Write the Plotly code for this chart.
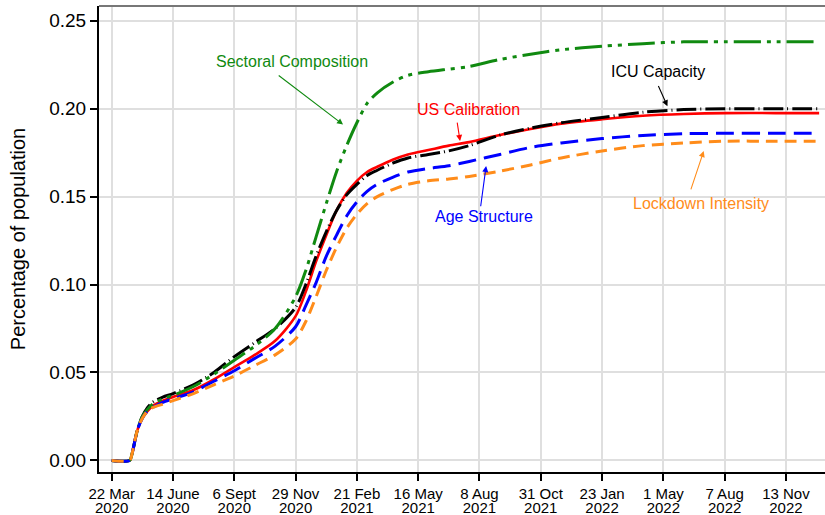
import plotly.graph_objects as go

# Weeks since 22 March 2020
weeks = [0, 3.5, 4, 5, 6, 7, 8, 10, 12, 16, 20, 24, 28, 32, 36, 38, 40, 42, 44, 46,
         48, 50, 52, 55, 58, 62, 66, 70, 76, 82, 88, 96, 104, 112, 120, 130, 138.5]

us_calibration = [0, 0, 0.004, 0.017, 0.024, 0.028, 0.031, 0.034, 0.036, 0.040, 0.046, 0.053,
                  0.060, 0.068, 0.082, 0.096, 0.113, 0.128, 0.142, 0.152, 0.159, 0.164, 0.167,
                  0.171, 0.174, 0.1765, 0.179, 0.181, 0.185, 0.1885, 0.1915, 0.194, 0.196,
                  0.197, 0.1975, 0.1975, 0.1975]
icu_capacity = [0, 0, 0.004, 0.017, 0.025, 0.030, 0.033, 0.036, 0.038, 0.043, 0.050, 0.059,
                0.067, 0.075, 0.087, 0.100, 0.116, 0.130, 0.142, 0.151, 0.157, 0.162, 0.165,
                0.169, 0.172, 0.174, 0.176, 0.179, 0.185, 0.189, 0.192, 0.195, 0.198,
                0.1995, 0.200, 0.200, 0.200]
sectoral = [0, 0, 0.004, 0.017, 0.025, 0.029, 0.032, 0.035, 0.037, 0.042, 0.049, 0.057,
            0.065, 0.075, 0.093, 0.108, 0.127, 0.146, 0.164, 0.179, 0.192, 0.203, 0.209,
            0.215, 0.219, 0.221, 0.2225, 0.224, 0.228, 0.231, 0.2335, 0.2355, 0.237,
            0.238, 0.238, 0.238, 0.238]
age_structure = [0, 0, 0.004, 0.017, 0.024, 0.028, 0.030, 0.033, 0.035, 0.039, 0.045, 0.051,
                 0.058, 0.065, 0.076, 0.088, 0.101, 0.116, 0.128, 0.139, 0.147, 0.153, 0.157,
                 0.161, 0.164, 0.166, 0.1675, 0.170, 0.174, 0.178, 0.1805, 0.183, 0.1848,
                 0.1858, 0.186, 0.186, 0.186]
lockdown = [0, 0, 0.004, 0.017, 0.024, 0.028, 0.030, 0.032, 0.034, 0.038, 0.043, 0.048,
            0.054, 0.060, 0.069, 0.079, 0.093, 0.108, 0.121, 0.132, 0.140, 0.146, 0.150,
            0.154, 0.157, 0.159, 0.160, 0.1615, 0.1645, 0.168, 0.172, 0.176, 0.179,
            0.1805, 0.1815, 0.1815, 0.1815]

tick_weeks = [0, 12, 24, 36, 48, 60, 72, 84, 96, 108, 120, 132]
tick_days = ["22 Mar", "14 June", "6 Sept", "29 Nov", "21 Feb", "16 May", "8 Aug",
             "31 Oct", "23 Jan", "1 May", "7 Aug", "13 Nov"]
tick_years = ["2020", "2020", "2020", "2020", "2021", "2021", "2021",
              "2021", "2022", "2022", "2022", "2022"]
y_ticks = [0.00, 0.05, 0.10, 0.15, 0.20, 0.25]

GREEN = "#108a10"
RED = "#ff0000"
BLACK = "#000000"
BLUE = "#0000ff"
ORANGE = "#ff8c1a"
FONT = "Liberation Sans, Arial, Helvetica, sans-serif"

series = [
    ("US Calibration", us_calibration, RED, "solid", 2.6),
    ("ICU Capacity", icu_capacity, BLACK, "20px,4px,1px,4px", 3),
    ("Sectoral Composition", sectoral, GREEN, "27px,6px,4px,6px,4px,6px", 3),
    ("Age Structure", age_structure, BLUE, "18px,8px", 3),
    ("Lockdown Intensity", lockdown, ORANGE, "12px,7px", 3),
]

fig = go.Figure()
for name, vals, color, dash, width in series:
    fig.add_trace(go.Scatter(
        x=weeks, y=vals, name=name, mode="lines",
        line=dict(color=color, dash=dash, width=width, shape="spline", smoothing=0.8),
        showlegend=False, hoverinfo="skip",
    ))

# Year row under the day labels
fig.add_trace(go.Scatter(x=[None], y=[None], xaxis="x2", showlegend=False))

# Labels with pointer arrows: (text, color, text pos, arrow tail, arrow tip)
labels = [
    ("Sectoral Composition", GREEN, (35.3, 0.2268), (32.4, 0.2195), (45.3, 0.191)),
    ("US Calibration", RED, (69.8, 0.1997), (67.6, 0.1929), (68.2, 0.1816)),
    ("ICU Capacity", BLACK, (106.9, 0.2212), (106.9, 0.2138), (108.8, 0.2014)),
    ("Age Structure", BLUE, (72.9, 0.1386), (72.2, 0.1437), (73.3, 0.1674)),
    ("Lockdown Intensity", ORANGE, (115.3, 0.1459), (113.3, 0.1533), (115.9, 0.1759)),
]
for text, color, tpos, tail, tip in labels:
    fig.add_annotation(x=tpos[0], y=tpos[1], text=text, showarrow=False,
                       font=dict(family=FONT, size=16, color=color))
    fig.add_annotation(x=tip[0], y=tip[1], ax=tail[0], ay=tail[1],
                       xref="x", yref="y", axref="x", ayref="y", text="",
                       showarrow=True, arrowhead=2, arrowsize=1.1, arrowwidth=1.1,
                       arrowcolor=color)

x_range = [-2.49, 139.65]
fig.update_layout(
    width=825, height=515,
    margin=dict(l=99, r=0, t=6, b=43, autoexpand=False),
    paper_bgcolor="white", plot_bgcolor="white",
    font=dict(family=FONT, color="black"),
    xaxis=dict(
        range=x_range, tickmode="array", tickvals=tick_weeks, ticktext=tick_days,
        ticks="outside", ticklen=7, tickwidth=1.5, tickcolor="black",
        showline=True, linecolor="black", linewidth=2,
        showgrid=True, gridcolor="#dfdfdf", gridwidth=1.6,
        tickfont=dict(family=FONT, size=15), zeroline=False, automargin=False,
    ),
    xaxis2=dict(
        range=x_range, overlaying="x", anchor="y", side="bottom",
        tickmode="array", tickvals=tick_weeks, ticktext=tick_years,
        ticks="outside", ticklen=22, tickcolor="rgba(0,0,0,0)",
        showline=False, showgrid=False, zeroline=False, automargin=False,
        tickfont=dict(family=FONT, size=15),
    ),
    yaxis=dict(
        range=[-0.0066, 0.2584], tickmode="array", tickvals=y_ticks,
        tickformat=".2f", ticks="outside", ticklen=7, tickwidth=1.5, tickcolor="black",
        showline=True, linecolor="black", linewidth=2,
        showgrid=True, gridcolor="#dfdfdf", gridwidth=1.6, zeroline=False,
        automargin=False,
        tickfont=dict(family=FONT, size=19),
        title=dict(text="Percentage of population", font=dict(family=FONT, size=20),
                   standoff=18),
    ),
    shapes=[dict(type="line", xref="paper", yref="paper", x0=0, x1=1, y0=1, y1=1,
                 line=dict(color="#777777", width=2))],
)

fig.write_html("out.html")
